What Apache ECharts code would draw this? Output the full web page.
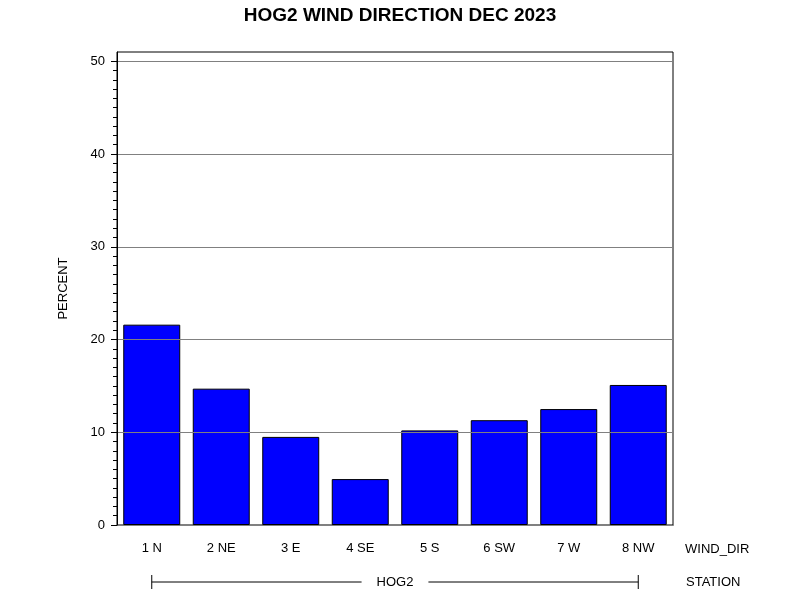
<!DOCTYPE html>
<html>
<head>
<meta charset="utf-8">
<script src="https://cdn.jsdelivr.net/npm/echarts@6/dist/echarts.min.js"></script>
<style>html,body{margin:0;padding:0;background:#fff}#c{width:800px;height:600px}</style>
</head>
<body>
<div id="c"></div>
<script>
const titleText = 'HOG2 WIND DIRECTION DEC 2023';
const categories = ['1 N', '2 NE', '3 E', '4 SE', '5 S', '6 SW', '7 W', '8 NW'];
const percentValues = [21.6, 14.7, 9.5, 4.95, 10.2, 11.3, 12.5, 15.1];
const yTickValues = [0, 10, 20, 30, 40, 50];
const stationName = 'HOG2';
const xAxisTitle = 'WIND_DIR';
const groupTitle = 'STATION';
const yAxisTitle = 'PERCENT';

const FONT = '"Liberation Sans", Arial, sans-serif';
const FS = 13;
const chart = echarts.init(document.getElementById('c'), null, {renderer: 'canvas'});

chart.setOption({
  animation: false,
  backgroundColor: '#ffffff',
  title: {
    text: titleText, left: 'center', top: 1,
    textStyle: {fontFamily: FONT, fontWeight: 'bold', fontSize: 19, color: '#000'}
  },
  grid: {left: 117, right: 127, top: 52, bottom: 75, show: true, borderColor: '#000', borderWidth: 1, backgroundColor: 'transparent'},
  xAxis: [{
    type: 'category', data: categories,
    axisLine: {lineStyle: {color: '#000', width: 1}},
    axisTick: {show: false},
    axisLabel: {fontFamily: FONT, fontSize: FS, color: '#000', margin: 17},
    splitLine: {show: false}
  }],
  yAxis: [{
    type: 'value', min: 0, max: 51, interval: 10, z: 3,
    name: yAxisTitle, nameLocation: 'middle', nameGap: 47,
    nameTextStyle: {fontFamily: FONT, fontSize: FS, color: '#000'},
    axisLine: {show: true, lineStyle: {color: '#000', width: 1}},
    axisTick: {show: true, length: 6, customValues: yTickValues, lineStyle: {color: '#000'}},
    minorTick: {show: true, splitNumber: 10, length: 4, lineStyle: {color: '#000'}},
    axisLabel: {fontFamily: FONT, fontSize: FS, color: '#000', margin: 12, customValues: yTickValues},
    splitLine: {show: true, lineStyle: {color: '#808080', width: 1}}
  }],
  series: [{
    type: 'bar', data: percentValues, barCategoryGap: '18%',
    itemStyle: {color: '#0000ff', borderColor: '#000', borderWidth: 1}
  }]
});

const x0 = chart.convertToPixel({xAxisIndex: 0}, categories[0]);
const x1 = chart.convertToPixel({xAxisIndex: 0}, categories[categories.length - 1]);
const yBase = chart.convertToPixel({yAxisIndex: 0}, 0);
const rightEdge = chart.getWidth() - 127;
const rowY = yBase + 57;
const labY = yBase + 24;
chart.setOption({
  graphic: [
    {type: 'line', shape: {x1: x0, y1: rowY, x2: x1, y2: rowY}, style: {stroke: '#000', lineWidth: 1}},
    {type: 'line', shape: {x1: x0, y1: rowY - 7, x2: x0, y2: rowY + 7}, style: {stroke: '#000', lineWidth: 1}},
    {type: 'line', shape: {x1: x1, y1: rowY - 7, x2: x1, y2: rowY + 7}, style: {stroke: '#000', lineWidth: 1}},
    {type: 'text', x: (x0 + x1) / 2, y: rowY, z: 10,
      style: {text: stationName, fontFamily: FONT, fontSize: FS, fill: '#000', align: 'center', verticalAlign: 'middle',
        backgroundColor: '#fff', padding: [2, 15, 2, 15]}},
    {type: 'text', x: rightEdge + 12, y: labY,
      style: {text: xAxisTitle, fontFamily: FONT, fontSize: FS, fill: '#000', align: 'left', verticalAlign: 'middle'}},
    {type: 'text', x: rightEdge + 13, y: rowY,
      style: {text: groupTitle, fontFamily: FONT, fontSize: FS, fill: '#000', align: 'left', verticalAlign: 'middle'}}
  ]
});
</script>
</body>
</html>
